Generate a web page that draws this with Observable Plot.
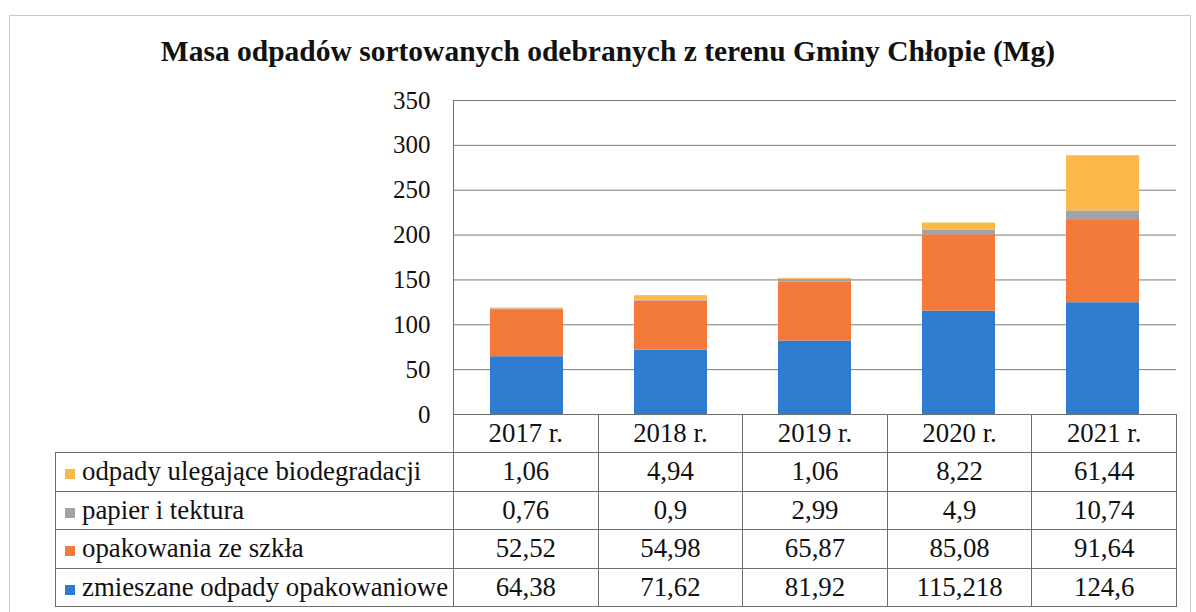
<!DOCTYPE html>
<html><head><meta charset="utf-8">
<script src="https://cdn.jsdelivr.net/npm/d3@7"></script>
<script src="https://cdn.jsdelivr.net/npm/@observablehq/plot@0.6"></script>
<style>
html,body{margin:0;padding:0;background:#fff;}
#wrap{position:relative;width:1196px;height:612px;overflow:hidden;font-family:"Liberation Serif","Times New Roman",serif;color:#111;}
#frame{position:absolute;left:9px;top:15px;width:1180px;height:620px;border:1px solid #c9c9c9;}
#title{position:absolute;left:0;top:32px;width:1216px;text-align:center;font-weight:bold;font-size:29.5px;line-height:38px;}
#chart{position:absolute;left:0;top:70px;}
#tbl{position:absolute;left:55px;top:414px;border-collapse:collapse;table-layout:fixed;font-size:26.8px;}
#tbl td{border:1px solid #6f6f6f;height:37.5px;padding:0;text-align:center;white-space:nowrap;line-height:37px;}
#tbl tr.hd td{height:37px;}
#tbl td.lab{text-align:left;padding-left:9px;}
#tbl td.blank{border:none;border-right:1px solid #6f6f6f;}
.sw{display:inline-block;width:10px;height:10px;margin-right:7px;vertical-align:1px;}
</style>
</head><body>
<div id="wrap">
  <div id="frame"></div>
  <div id="title">Masa odpadów sortowanych odebranych z terenu Gminy Chłopie (Mg)</div>
  <div id="chart"></div>
  <table id="tbl"></table>
</div>
<script>
const years = ["2017 r.", "2018 r.", "2019 r.", "2020 r.", "2021 r."];
const series = ["zmieszane odpady opakowaniowe", "opakowania ze szkła", "papier i tektura", "odpady ulegające biodegradacji"];
const zmieszane = [64.38, 71.62, 81.92, 115.218, 124.6];
const szklo = [52.52, 54.98, 65.87, 85.08, 91.64];
const papier = [0.76, 0.9, 2.99, 4.9, 10.74];
const bio = [1.06, 4.94, 1.06, 8.22, 61.44];
const colors = ["#2f7bcf", "#f47a3c", "#a3a3a5", "#fdb84a"];
const yTicks = [0, 50, 100, 150, 200, 250, 300, 350];

const seriesValues = [zmieszane, szklo, papier, bio];
const data = [];
series.forEach((s, si) => years.forEach((y, yi) => data.push({year: y, series: s, value: seriesValues[si][yi]})));

const chart = Plot.plot({
  width: 1196,
  height: 364,
  marginLeft: 453,
  marginRight: 20,
  marginTop: 30,
  marginBottom: 20,
  style: {fontFamily: "Liberation Serif, serif", fontSize: "25px", color: "#111", background: "transparent", overflow: "visible"},
  x: {domain: years, paddingInner: 0.49, paddingOuter: 0.245, axis: null},
  y: {domain: [0, 350]},
  color: {domain: series, range: colors},
  marks: [
    Plot.gridY(yTicks.slice(1), {stroke: "#7a7a7a", strokeOpacity: 1, strokeWidth: 1}),
    Plot.axisY(yTicks, {tickSize: 0, tickPadding: 23, fontSize: 25, label: null}),
    Plot.barY(data, {x: "year", y: "value", fill: "series"}),
    Plot.frame({anchor: "left", stroke: "#6f6f6f"})
  ]
});
document.getElementById("chart").appendChild(chart);

const fmt = v => String(v).replace(".", ",");
const step = (1176 - 453) / years.length;
const tbl = document.getElementById("tbl");
let html = `<colgroup><col style="width:398px">${years.map(() => `<col style="width:${step}px">`).join("")}</colgroup>`;
html += `<tr class="hd"><td class="blank"></td>${years.map(y => `<td>${y}</td>`).join("")}</tr>`;
for (let si = series.length - 1; si >= 0; si--) {
  html += `<tr><td class="lab"><span class="sw" style="background:${colors[si]}"></span>${series[si]}</td>${seriesValues[si].map(v => `<td>${fmt(v)}</td>`).join("")}</tr>`;
}
tbl.innerHTML = html;
</script>
</body></html>
